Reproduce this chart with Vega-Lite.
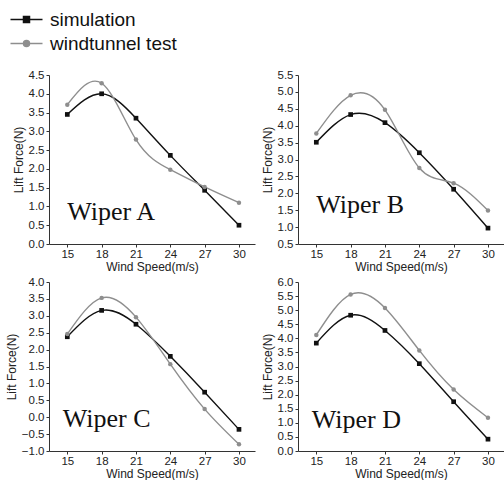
{
  "$schema": "https://vega.github.io/schema/vega-lite/v6.json",
  "background": "white",
  "padding": {"left": 5, "top": 10, "right": 0, "bottom": 0},
  "datasets": {
    "pts": [
      {"p": "A", "s": "simulation", "x": 15, "y": 3.45},
      {"p": "A", "s": "simulation", "x": 18, "y": 4.0},
      {"p": "A", "s": "simulation", "x": 21, "y": 3.35},
      {"p": "A", "s": "simulation", "x": 24, "y": 2.36},
      {"p": "A", "s": "simulation", "x": 27, "y": 1.43},
      {"p": "A", "s": "simulation", "x": 30, "y": 0.5},
      {"p": "A", "s": "windtunnel test", "x": 15, "y": 3.71},
      {"p": "A", "s": "windtunnel test", "x": 18, "y": 4.28},
      {"p": "A", "s": "windtunnel test", "x": 21, "y": 2.78},
      {"p": "A", "s": "windtunnel test", "x": 24, "y": 1.98},
      {"p": "A", "s": "windtunnel test", "x": 27, "y": 1.52},
      {"p": "A", "s": "windtunnel test", "x": 30, "y": 1.1},
      {"p": "B", "s": "simulation", "x": 15, "y": 3.51},
      {"p": "B", "s": "simulation", "x": 18, "y": 4.33},
      {"p": "B", "s": "simulation", "x": 21, "y": 4.09},
      {"p": "B", "s": "simulation", "x": 24, "y": 3.2},
      {"p": "B", "s": "simulation", "x": 27, "y": 2.12},
      {"p": "B", "s": "simulation", "x": 30, "y": 0.97},
      {"p": "B", "s": "windtunnel test", "x": 15, "y": 3.77},
      {"p": "B", "s": "windtunnel test", "x": 18, "y": 4.9},
      {"p": "B", "s": "windtunnel test", "x": 21, "y": 4.47},
      {"p": "B", "s": "windtunnel test", "x": 24, "y": 2.75},
      {"p": "B", "s": "windtunnel test", "x": 27, "y": 2.3},
      {"p": "B", "s": "windtunnel test", "x": 30, "y": 1.49},
      {"p": "C", "s": "simulation", "x": 15, "y": 2.38},
      {"p": "C", "s": "simulation", "x": 18, "y": 3.16},
      {"p": "C", "s": "simulation", "x": 21, "y": 2.75},
      {"p": "C", "s": "simulation", "x": 24, "y": 1.8},
      {"p": "C", "s": "simulation", "x": 27, "y": 0.74},
      {"p": "C", "s": "simulation", "x": 30, "y": -0.36},
      {"p": "C", "s": "windtunnel test", "x": 15, "y": 2.46},
      {"p": "C", "s": "windtunnel test", "x": 18, "y": 3.53},
      {"p": "C", "s": "windtunnel test", "x": 21, "y": 2.96},
      {"p": "C", "s": "windtunnel test", "x": 24, "y": 1.57},
      {"p": "C", "s": "windtunnel test", "x": 27, "y": 0.24},
      {"p": "C", "s": "windtunnel test", "x": 30, "y": -0.8},
      {"p": "D", "s": "simulation", "x": 15, "y": 3.83},
      {"p": "D", "s": "simulation", "x": 18, "y": 4.82},
      {"p": "D", "s": "simulation", "x": 21, "y": 4.28},
      {"p": "D", "s": "simulation", "x": 24, "y": 3.1},
      {"p": "D", "s": "simulation", "x": 27, "y": 1.75},
      {"p": "D", "s": "simulation", "x": 30, "y": 0.42},
      {"p": "D", "s": "windtunnel test", "x": 15, "y": 4.12},
      {"p": "D", "s": "windtunnel test", "x": 18, "y": 5.56},
      {"p": "D", "s": "windtunnel test", "x": 21, "y": 5.08},
      {"p": "D", "s": "windtunnel test", "x": 24, "y": 3.57},
      {"p": "D", "s": "windtunnel test", "x": 27, "y": 2.18},
      {"p": "D", "s": "windtunnel test", "x": 30, "y": 1.18}
    ],
    "labels": [
      {"p": "A", "label": "Wiper A", "x": 15, "y": 0.64},
      {"p": "B", "label": "Wiper B", "x": 15, "y": 1.41},
      {"p": "C", "label": "Wiper C", "x": 14.6, "y": -0.3},
      {"p": "D", "label": "Wiper D", "x": 14.6, "y": 0.82}
    ]
  },
  "columns": 2,
  "spacing": {"row": 3, "column": 6},
  "resolve": {"scale": {"color": "shared"}, "legend": {"color": "shared"}},
  "concat": [
    {
      "width": 206, "height": 169,
      "layer": [
        {
          "data": {"name": "pts"},
          "transform": [{"filter": "datum.p === 'A'"}],
          "mark": {"type": "line", "interpolate": "natural", "strokeWidth": 1.4},
          "encoding": {
            "x": {"field": "x", "type": "quantitative", "scale": {"domain": [13.4, 31.4], "nice": false, "zero": false}, "axis": {"values": [15, 18, 21, 24, 27, 30], "tickCount": 30, "format": "d", "title": "Wind Speed(m/s)", "labelOverlap": false}},
            "y": {"field": "y", "type": "quantitative", "scale": {"domain": [0, 4.5], "nice": false, "zero": false}, "axis": {"values": [0, 0.5, 1, 1.5, 2, 2.5, 3, 3.5, 4, 4.5], "tickCount": 30, "format": ".1f", "title": "Lift Force(N)", "labelOverlap": false, "labelBound": false}},
            "color": {"field": "s", "type": "nominal", "scale": {"domain": ["simulation", "windtunnel test"], "range": ["#111111", "#8e8e8e"]},
              "legend": {"orient": "none", "legendX": -32, "legendY": -65, "title": null, "symbolSize": 256, "labelFontSize": 19, "labelFont": "Liberation Sans", "labelColor": "#111", "labelOffset": 14, "rowPadding": 4, "symbolStrokeWidth": 1.5,
                "encode": {"symbols": {"update": {
                  "shape": {"signal": "datum.value === 'simulation' ? 'M-2,0H2M-0.375,-0.375H0.375V0.375H-0.375Z' : 'M-2,0H2M0.375,0A0.375,0.375,0,1,1,-0.375,0A0.375,0.375,0,1,1,0.375,0Z'"},
                  "stroke": {"scale": "color", "field": "value"},
                  "fill": {"scale": "color", "field": "value"},
                  "strokeWidth": {"value": 1.5},
                  "opacity": {"value": 1}
                }}}}}
          }
        },
        {
          "data": {"name": "pts"},
          "transform": [{"filter": "datum.p === 'A' && datum.s === 'simulation'"}],
          "mark": {"type": "point", "filled": true, "size": 22, "opacity": 1, "shape": "square"},
          "encoding": {
            "x": {"field": "x", "type": "quantitative"},
            "y": {"field": "y", "type": "quantitative"},
            "color": {"field": "s", "type": "nominal"}
          }
        },
        {
          "data": {"name": "pts"},
          "transform": [{"filter": "datum.p === 'A' && datum.s !== 'simulation'"}],
          "mark": {"type": "point", "filled": true, "size": 20, "opacity": 1, "shape": "circle"},
          "encoding": {
            "x": {"field": "x", "type": "quantitative"},
            "y": {"field": "y", "type": "quantitative"},
            "color": {"field": "s", "type": "nominal"}
          }
        },
        {
          "data": {"name": "labels"},
          "transform": [{"filter": "datum.p === 'A'"}],
          "mark": {"type": "text", "align": "left", "baseline": "alphabetic", "font": "Liberation Serif", "fontSize": 26, "color": "#111"},
          "encoding": {
            "x": {"field": "x", "type": "quantitative"},
            "y": {"field": "y", "type": "quantitative"},
            "text": {"field": "label"}
          }
        }
      ]
    },
    {
      "width": 206, "height": 169,
      "layer": [
        {
          "data": {"name": "pts"},
          "transform": [{"filter": "datum.p === 'B'"}],
          "mark": {"type": "line", "interpolate": "natural", "strokeWidth": 1.4},
          "encoding": {
            "x": {"field": "x", "type": "quantitative", "scale": {"domain": [13.4, 31.4], "nice": false, "zero": false}, "axis": {"values": [15, 18, 21, 24, 27, 30], "tickCount": 30, "format": "d", "title": "Wind Speed(m/s)", "labelOverlap": false}},
            "y": {"field": "y", "type": "quantitative", "scale": {"domain": [0.5, 5.5], "nice": false, "zero": false}, "axis": {"values": [0.5, 1, 1.5, 2, 2.5, 3, 3.5, 4, 4.5, 5, 5.5], "tickCount": 30, "format": ".1f", "title": "Lift Force(N)", "labelOverlap": false, "labelBound": false}},
            "color": {"field": "s", "type": "nominal"}
          }
        },
        {
          "data": {"name": "pts"},
          "transform": [{"filter": "datum.p === 'B' && datum.s === 'simulation'"}],
          "mark": {"type": "point", "filled": true, "size": 22, "opacity": 1, "shape": "square"},
          "encoding": {
            "x": {"field": "x", "type": "quantitative"},
            "y": {"field": "y", "type": "quantitative"},
            "color": {"field": "s", "type": "nominal"}
          }
        },
        {
          "data": {"name": "pts"},
          "transform": [{"filter": "datum.p === 'B' && datum.s !== 'simulation'"}],
          "mark": {"type": "point", "filled": true, "size": 20, "opacity": 1, "shape": "circle"},
          "encoding": {
            "x": {"field": "x", "type": "quantitative"},
            "y": {"field": "y", "type": "quantitative"},
            "color": {"field": "s", "type": "nominal"}
          }
        },
        {
          "data": {"name": "labels"},
          "transform": [{"filter": "datum.p === 'B'"}],
          "mark": {"type": "text", "align": "left", "baseline": "alphabetic", "font": "Liberation Serif", "fontSize": 26, "color": "#111"},
          "encoding": {
            "x": {"field": "x", "type": "quantitative"},
            "y": {"field": "y", "type": "quantitative"},
            "text": {"field": "label"}
          }
        }
      ]
    },
    {
      "width": 206, "height": 169,
      "layer": [
        {
          "data": {"name": "pts"},
          "transform": [{"filter": "datum.p === 'C'"}],
          "mark": {"type": "line", "interpolate": "natural", "strokeWidth": 1.4},
          "encoding": {
            "x": {"field": "x", "type": "quantitative", "scale": {"domain": [13.4, 31.4], "nice": false, "zero": false}, "axis": {"values": [15, 18, 21, 24, 27, 30], "tickCount": 30, "format": "d", "title": "Wind Speed(m/s)", "labelOverlap": false}},
            "y": {"field": "y", "type": "quantitative", "scale": {"domain": [-1, 4], "nice": false, "zero": false}, "axis": {"values": [-1, -0.5, 0, 0.5, 1, 1.5, 2, 2.5, 3, 3.5, 4], "tickCount": 30, "format": ".1f", "title": "Lift Force(N)", "labelOverlap": false, "labelBound": false}},
            "color": {"field": "s", "type": "nominal"}
          }
        },
        {
          "data": {"name": "pts"},
          "transform": [{"filter": "datum.p === 'C' && datum.s === 'simulation'"}],
          "mark": {"type": "point", "filled": true, "size": 22, "opacity": 1, "shape": "square"},
          "encoding": {
            "x": {"field": "x", "type": "quantitative"},
            "y": {"field": "y", "type": "quantitative"},
            "color": {"field": "s", "type": "nominal"}
          }
        },
        {
          "data": {"name": "pts"},
          "transform": [{"filter": "datum.p === 'C' && datum.s !== 'simulation'"}],
          "mark": {"type": "point", "filled": true, "size": 20, "opacity": 1, "shape": "circle"},
          "encoding": {
            "x": {"field": "x", "type": "quantitative"},
            "y": {"field": "y", "type": "quantitative"},
            "color": {"field": "s", "type": "nominal"}
          }
        },
        {
          "data": {"name": "labels"},
          "transform": [{"filter": "datum.p === 'C'"}],
          "mark": {"type": "text", "align": "left", "baseline": "alphabetic", "font": "Liberation Serif", "fontSize": 26, "color": "#111"},
          "encoding": {
            "x": {"field": "x", "type": "quantitative"},
            "y": {"field": "y", "type": "quantitative"},
            "text": {"field": "label"}
          }
        }
      ]
    },
    {
      "width": 206, "height": 169,
      "layer": [
        {
          "data": {"name": "pts"},
          "transform": [{"filter": "datum.p === 'D'"}],
          "mark": {"type": "line", "interpolate": "natural", "strokeWidth": 1.4},
          "encoding": {
            "x": {"field": "x", "type": "quantitative", "scale": {"domain": [13.4, 31.4], "nice": false, "zero": false}, "axis": {"values": [15, 18, 21, 24, 27, 30], "tickCount": 30, "format": "d", "title": "Wind Speed(m/s)", "labelOverlap": false}},
            "y": {"field": "y", "type": "quantitative", "scale": {"domain": [0, 6], "nice": false, "zero": false}, "axis": {"values": [0, 0.5, 1, 1.5, 2, 2.5, 3, 3.5, 4, 4.5, 5, 5.5, 6], "tickCount": 30, "format": ".1f", "title": "Lift Force(N)", "labelOverlap": false, "labelBound": false}},
            "color": {"field": "s", "type": "nominal"}
          }
        },
        {
          "data": {"name": "pts"},
          "transform": [{"filter": "datum.p === 'D' && datum.s === 'simulation'"}],
          "mark": {"type": "point", "filled": true, "size": 22, "opacity": 1, "shape": "square"},
          "encoding": {
            "x": {"field": "x", "type": "quantitative"},
            "y": {"field": "y", "type": "quantitative"},
            "color": {"field": "s", "type": "nominal"}
          }
        },
        {
          "data": {"name": "pts"},
          "transform": [{"filter": "datum.p === 'D' && datum.s !== 'simulation'"}],
          "mark": {"type": "point", "filled": true, "size": 20, "opacity": 1, "shape": "circle"},
          "encoding": {
            "x": {"field": "x", "type": "quantitative"},
            "y": {"field": "y", "type": "quantitative"},
            "color": {"field": "s", "type": "nominal"}
          }
        },
        {
          "data": {"name": "labels"},
          "transform": [{"filter": "datum.p === 'D'"}],
          "mark": {"type": "text", "align": "left", "baseline": "alphabetic", "font": "Liberation Serif", "fontSize": 26, "color": "#111"},
          "encoding": {
            "x": {"field": "x", "type": "quantitative"},
            "y": {"field": "y", "type": "quantitative"},
            "text": {"field": "label"}
          }
        }
      ]
    }
  ],
  "config": {
    "view": {"stroke": null},
    "font": "Liberation Sans",
    "axis": {
      "grid": false,
      "labelFont": "Liberation Sans",
      "labelFontSize": 11.5,
      "labelColor": "#222",
      "labelOverlap": false,
      "labelFlush": false,
      "titleFont": "Liberation Sans",
      "titleFontSize": 12,
      "titleFontWeight": "normal",
      "titleColor": "#222",
      "domainColor": "#333",
      "tickColor": "#333",
      "tickSize": 3,
      "labelPadding": 1,
      "titlePadding": 3
    },
    "axisX": {"labelPadding": 1, "titlePadding": 2},
    "axisY": {"labelPadding": 2}
  }
}
